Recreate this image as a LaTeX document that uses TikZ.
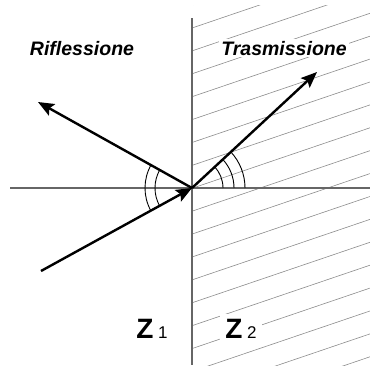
\documentclass[tikz,border=0pt]{standalone}
\usepackage{fontspec}
\setmainfont{Liberation Sans}
\usetikzlibrary{arrows.meta,calc}
\begin{document}
\begin{tikzpicture}[x=1pt,y=-1pt,
  axis/.style={draw=black!60,line width=1.4pt},
  hatch/.style={draw=black!45,line width=0.6pt},
  ray/.style={line width=2.4pt,-{Stealth[length=16pt,width=13pt,inset=3pt]}},
  anglearc/.style={line width=0.9pt},
  lbl/.style={font=\fontsize{19.5}{20}\selectfont\bfseries\itshape, inner sep=2pt},
  zlbl/.style={inner sep=5pt}]
\useasboundingbox (0,0) rectangle (370,365);
% hatching of medium 2
\begin{scope}
  \clip (193,5) rectangle (370,365);
  \foreach \k in {-1,...,17}
    \draw[hatch] (192,{28+22.9*\k}) -- ++(180,-61.2);
\end{scope}
% coordinates
\coordinate (O) at (192,188);
\coordinate (inc) at (41,271);
\coordinate (refl) at (38,102);
\coordinate (trans) at (317,72);
\coordinate (hl) at (10,188);
\coordinate (hr) at (370,188);
\coordinate (vt) at (192,18);
\coordinate (vb) at (192,365);
% axes
\draw[axis] (hl) -- (hr);
\draw[axis] (vt) -- (vb);
% angle arcs
\draw[anglearc] ($(O)+(151.2:47)$) arc[start angle=151.2,end angle=209.2,radius=47];
\draw[anglearc] ($(O)+(151.2:37)$) arc[start angle=151.2,end angle=209.2,radius=37];
\foreach \r in {31,42,53}
  \draw[anglearc] ($(O)+(-42.9:\r)$) arc[start angle=-42.9,end angle=0,radius=\r];
% rays
\draw[ray] (inc) -- (O);
\draw[ray] (O) -- (refl);
\draw[ray] (O) -- (trans);
% labels
\node[lbl,anchor=base] (refltext) at (82,55) {Riflessione};
\node[lbl,anchor=base,fill=white] (transtext) at (284,55) {Trasmissione};
\node[zlbl,anchor=base] (z1) at (152,338) {\fontsize{28}{28}\selectfont\bfseries Z\,{\fontsize{17}{17}\selectfont\mdseries 1}};
\node[zlbl,anchor=base,fill=white] (z2) at (241,338) {\fontsize{28}{28}\selectfont\bfseries Z\,{\fontsize{17}{17}\selectfont\mdseries 2}};
\end{tikzpicture}
\end{document}
